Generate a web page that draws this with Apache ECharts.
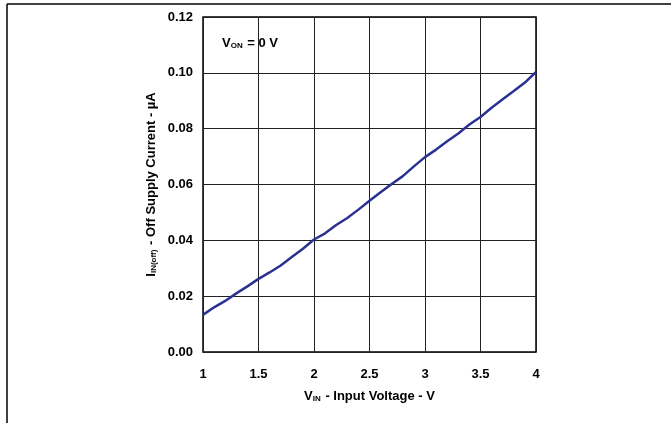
<!DOCTYPE html>
<html>
<head>
<meta charset="utf-8">
<script src="https://cdn.jsdelivr.net/npm/echarts@6/dist/echarts.min.js"></script>
<style>
  html, body { margin: 0; padding: 0; background: #fff; }
  #chart { width: 671px; height: 423px; }
</style>
</head>
<body>
<div id="chart"></div>
<script>
// Input voltage (V) and off-state supply current (µA)
const inputVoltage = [1.0, 1.1, 1.2, 1.3, 1.4, 1.5, 1.6, 1.7, 1.8, 1.9, 2.0,
  2.1, 2.2, 2.3, 2.4, 2.5, 2.6, 2.7, 2.8, 2.9, 3.0,
  3.1, 3.2, 3.3, 3.4, 3.5, 3.6, 3.7, 3.8, 3.9, 4.0];
const offSupplyCurrent = [0.0133, 0.0160, 0.0183, 0.0210, 0.0235, 0.0262, 0.0285, 0.0310, 0.0340, 0.0370, 0.0403,
  0.0425, 0.0455, 0.0480, 0.0510, 0.0542, 0.0572, 0.0602, 0.0630, 0.0665, 0.0698,
  0.0725, 0.0755, 0.0783, 0.0815, 0.0842, 0.0875, 0.0905, 0.0935, 0.0965, 0.1003];
const xTicks = [1, 1.5, 2, 2.5, 3, 3.5, 4];
const yTicks = [0, 0.02, 0.04, 0.06, 0.08, 0.10, 0.12];

const FONT = '"Liberation Sans", Arial, sans-serif';
const subStyle = { fontSize: 8, fontWeight: 'bold', fontFamily: FONT, color: '#000', padding: [5, 1, 0, 0] };
const mainStyle = { fontSize: 13, fontWeight: 'bold', fontFamily: FONT, color: '#000' };

const chart = echarts.init(document.getElementById('chart'), null, { renderer: 'canvas' });

chart.setOption({
  animation: false,
  backgroundColor: '#fff',
  grid: { left: 203, top: 17, width: 333, height: 335, show: true, borderColor: '#000', borderWidth: 1.5 },
  xAxis: {
    type: 'value', min: 1, max: 4, interval: 0.5,
    name: '{m|V}{s|IN}{m| - Input Voltage - V}',
    nameLocation: 'middle', nameGap: 38,
    nameTextStyle: { rich: { m: mainStyle, s: subStyle } },
    axisLine: { show: false },
    axisTick: { show: false },
    axisLabel: {
      margin: 16, fontSize: 13, fontWeight: 'bold', fontFamily: FONT, color: '#000',
      formatter: v => xTicks.includes(v) ? String(v) : ''
    },
    splitLine: { show: true, lineStyle: { color: '#222', width: 1 } }
  },
  yAxis: {
    type: 'value', min: 0, max: 0.12, interval: 0.02,
    name: '{m|I}{s|IN(off)}{m| - Off Supply Current - µA}',
    nameLocation: 'middle', nameGap: 45, nameRotate: 90,
    nameTextStyle: { rich: { m: mainStyle, s: subStyle } },
    axisLine: { show: false },
    axisTick: { show: false },
    axisLabel: {
      margin: 10, fontSize: 13, fontWeight: 'bold', fontFamily: FONT, color: '#000',
      formatter: v => yTicks.some(t => Math.abs(t - v) < 1e-9) ? v.toFixed(2) : ''
    },
    splitLine: { show: true, lineStyle: { color: '#222', width: 1 } }
  },
  series: [{
    type: 'line',
    data: inputVoltage.map((v, i) => [v, offSupplyCurrent[i]]),
    showSymbol: false,
    lineStyle: { color: '#2b3192', width: 2.5 },
    z: 5
  }],
  graphic: [
    { type: 'line', shape: { x1: 7, y1: 4, x2: 671, y2: 4 }, style: { stroke: '#000', lineWidth: 1.5 } },
    { type: 'line', shape: { x1: 7, y1: 4, x2: 7, y2: 423 }, style: { stroke: '#000', lineWidth: 1.5 } },
    {
      type: 'text', left: 222, top: 37, z: 10,
      style: {
        text: '{m|V}{s|ON}{m| = 0 V}',
        rich: { m: mainStyle, s: subStyle }
      }
    }
  ]
});
</script>
</body>
</html>
